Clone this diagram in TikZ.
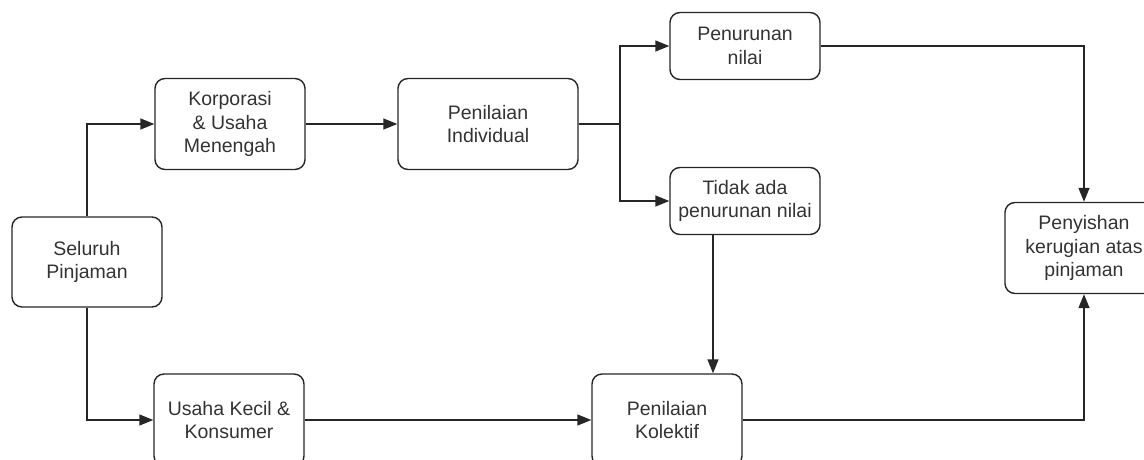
\documentclass[tikz,border=0pt]{standalone}
\usepackage{fontspec}
\setmainfont{Liberation Sans}
\usetikzlibrary{arrows.meta}

\tikzset{
  box/.style={draw, line width=1.4pt, rounded corners=10pt, align=center,
    inner sep=0pt, font=\fontsize{19.5}{23.5}\selectfont, text=black!80},
  arr/.style={line width=1.4pt, -{Triangle[length=14pt,width=11pt]}},
  line/.style={line width=1.4pt}
}

\begin{document}
\begin{tikzpicture}[x=1pt,y=-1pt,color=black!85]
\useasboundingbox (0,0) rectangle (1144,460);
\clip (0,0) rectangle (1144,460);
\node[box, minimum width=150pt, minimum height=90pt] (seluruh) at (87,262) {Seluruh\\Pinjaman};
\node[box, minimum width=150pt, minimum height=91pt] (korporasi) at (230,124) {Korporasi\\\& Usaha\\Menengah};
\node[box, minimum width=180pt, minimum height=91pt] (individual) at (488,124) {Penilaian\\Individual};
\node[box, minimum width=150pt, minimum height=67pt] (penurunan) at (745,46) {Penurunan\\nilai};
\node[box, minimum width=150pt, minimum height=67pt] (tidak) at (745,201) {Tidak ada\\penurunan nilai};
\node[box, minimum width=150pt, minimum height=92pt] (usaha) at (229,420) {Usaha Kecil \&\\Konsumer};
\node[box, minimum width=150pt, minimum height=92pt] (kolektif) at (667,420) {Penilaian\\Kolektif};
\node[box, minimum width=158pt, minimum height=91pt] (penyishan) at (1084,248) {Penyishan\\kerugian atas\\pinjaman};

\coordinate (split) at (620,124);
\coordinate (drop) at (713,235);

\draw[arr] (seluruh.north) |- (korporasi.west);
\draw[arr] (seluruh.south) |- (usaha.west);
\draw[arr] (korporasi) -- (individual);
\draw[line] (individual.east) -- (split);
\draw[arr] (split) |- (penurunan.west);
\draw[arr] (split) |- (tidak.west);
\draw[arr] (penurunan.east) -| (penyishan.north);
\draw[arr] (drop) -- (drop |- kolektif.north);
\draw[arr] (usaha.east) -- (kolektif.west);
\draw[arr] (kolektif.east) -| (penyishan.south);
\end{tikzpicture}
\end{document}
